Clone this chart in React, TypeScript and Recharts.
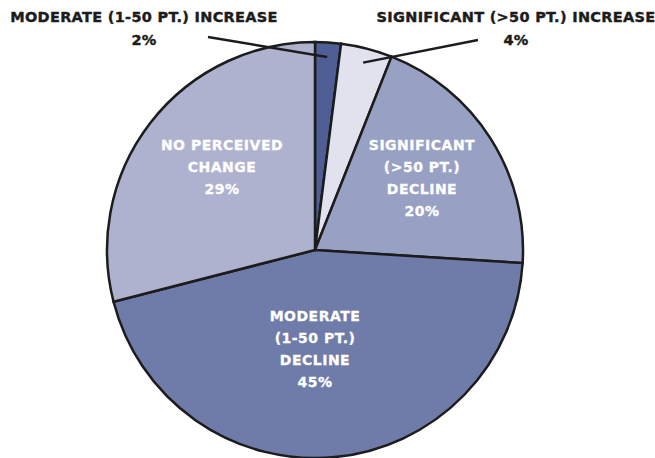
import React from "react";
import { PieChart, Pie, Cell } from "recharts";

const categories = [
  "MODERATE (1-50 PT.) INCREASE",
  "SIGNIFICANT (>50 PT.) INCREASE",
  "SIGNIFICANT (>50 PT.) DECLINE",
  "MODERATE (1-50 PT.) DECLINE",
  "NO PERCEIVED CHANGE",
];
const values = [2, 4, 20, 45, 29];
const labelLines = [
  ["MODERATE (1-50 PT.) INCREASE"],
  ["SIGNIFICANT (>50 PT.) INCREASE"],
  ["SIGNIFICANT", "(>50 PT.)", "DECLINE"],
  ["MODERATE", "(1-50 PT.)", "DECLINE"],
  ["NO PERCEIVED", "CHANGE"],
];
const colors = ["#4f5e95", "#e1e2ee", "#98a0c4", "#6f7ba8", "#aeb2cf"];

const data = categories.map((name, i) => ({ name, value: values[i] }));

const FONT = "'DejaVu Sans', sans-serif";
const RAD = Math.PI / 180;

// per-slice label placement relative to pie centre (layout, not data)
const inside: Record<number, { dx: number; dy: number }> = {
  2: { dx: 107, dy: -72 },
  3: { dx: 0, dy: 99 },
  4: { dx: -93, dy: -83 },
};
const outside: Record<number, { tx: number; ty: number; lx: number; ly: number }> = {
  0: { tx: -171, ty: -233, lx: -107, ly: -213 },
  1: { tx: 201, ty: -233, lx: 163, ly: -210 },
};

const renderLabel = (props: any) => {
  const { cx, cy, midAngle, outerRadius, index, value } = props;
  const lines = [...labelLines[index], `${value}%`];
  if (outside[index]) {
    const o = outside[index];
    const ex = cx + outerRadius * 0.93 * Math.cos(-midAngle * RAD);
    const ey = cy + outerRadius * 0.93 * Math.sin(-midAngle * RAD);
    return (
      <g key={`l${index}`}>
        <line x1={cx + o.lx} y1={cy + o.ly} x2={ex} y2={ey} stroke="#1c1c1c" strokeWidth={2.5} />
        {lines.map((t, k) => (
          <text
            key={k}
            x={cx + o.tx}
            y={cy + o.ty + k * 23}
            textAnchor="middle"
            dominantBaseline="central"
            fill="#1c1c1c"
            stroke="#1c1c1c"
            strokeWidth={0.4}
            fontFamily={FONT}
            fontWeight="bold"
            fontSize={14.5}
            letterSpacing={0.3}
          >
            {t}
          </text>
        ))}
      </g>
    );
  }
  const p = inside[index];
  const n = lines.length;
  return (
    <g key={`l${index}`}>
      {lines.map((t, k) => (
        <text
          key={k}
          x={cx + p.dx}
          y={cy + p.dy + (k - (n - 1) / 2) * 22}
          textAnchor="middle"
          dominantBaseline="central"
          fill="#ffffff"
          stroke="#ffffff"
          strokeWidth={0.3}
          fontFamily={FONT}
          fontWeight="bold"
          fontSize={14}
          letterSpacing={0.5}
        >
          {t}
        </text>
      ))}
    </g>
  );
};

export default function App() {
  return (
    <div style={{ position: "absolute", left: 0, top: 0, width: 655, height: 458, background: "#fff" }}>
      <PieChart width={655} height={458} margin={{ top: 0, right: 0, bottom: 0, left: 0 }}>
        <Pie
          data={data}
          dataKey="value"
          nameKey="name"
          cx={315}
          cy={250}
          outerRadius={208}
          startAngle={90}
          endAngle={-270}
          stroke="#1c1c1c"
          strokeWidth={2.5}
          label={renderLabel}
          labelLine={false}
          isAnimationActive={false}
        >
          {data.map((d, i) => (
            <Cell key={d.name} fill={colors[i]} />
          ))}
        </Pie>
      </PieChart>
    </div>
  );
}
